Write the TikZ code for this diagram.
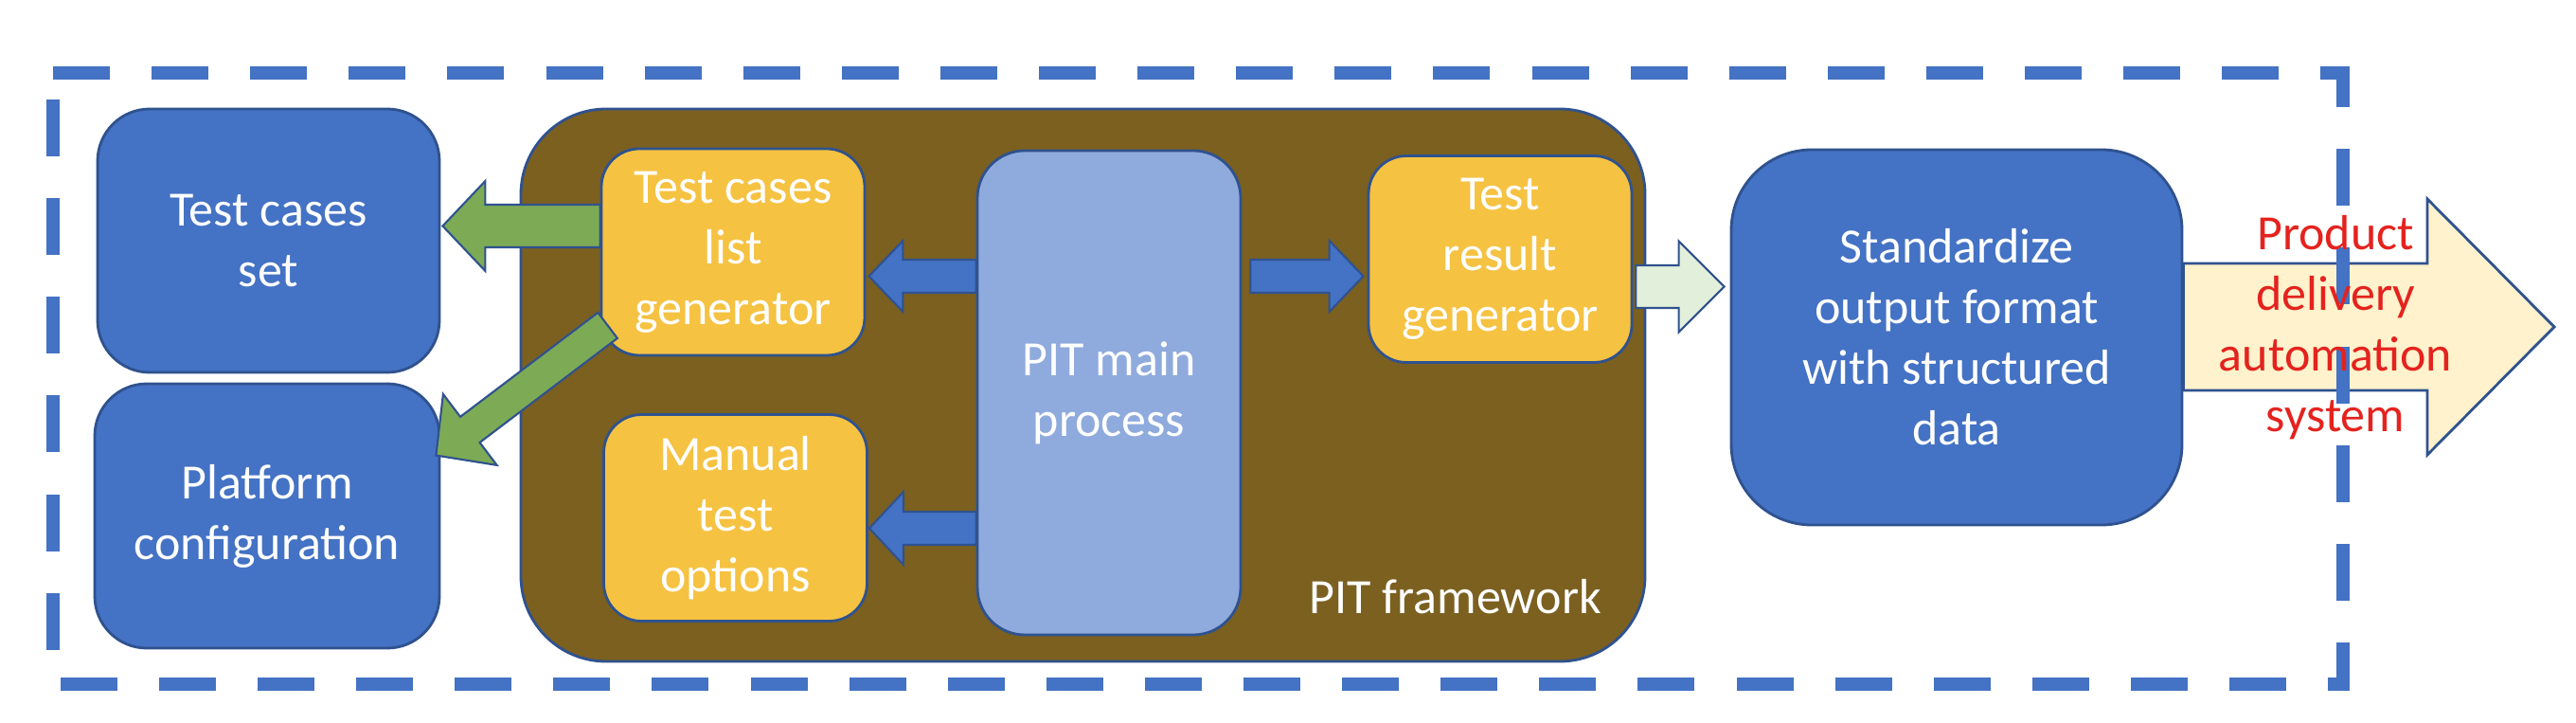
\documentclass[tikz,border=0pt]{standalone}
\usepackage{fontspec}
\setmainfont{Carlito}
\usetikzlibrary{calc}

\definecolor{boxblue}{HTML}{4472C4}
\definecolor{edgeblue}{HTML}{2F528F}
\definecolor{mainblue}{HTML}{8FAADC}
\definecolor{framebrown}{RGB}{123,96,32}
\definecolor{gold}{RGB}{245,194,66}
\definecolor{arrowgreen}{HTML}{7DAA55}
\definecolor{palegreen}{HTML}{E2EFDA}
\definecolor{cream}{HTML}{FFF2CC}
\definecolor{textred}{RGB}{228,35,30}

% block arrow: style, from, to, half shaft, half head, head length
\newcommand{\blockarrow}[6]{%
  \coordinate (ba-h) at ($(#3)!#6!(#2)$);
  \draw[#1] ($(#2)!#4!90:(#3)$) -- ($(ba-h)!#4!90:(#3)$) -- ($(ba-h)!#5!90:(#3)$) -- (#3)
    -- ($(ba-h)!#5!-90:(#3)$) -- ($(ba-h)!#4!-90:(#3)$) -- ($(#2)!#4!-90:(#3)$) -- cycle;
}

\begin{document}
\begin{tikzpicture}[every node/.style={text=white, align=center, inner sep=0pt,
      font=\fontsize{14.8}{18.2}\selectfont},
    bluebox/.style={draw=edgeblue, line width=0.8pt, fill=boxblue, rounded corners=0.55cm},
    goldbox/.style={draw=edgeblue, line width=0.8pt, fill=gold, rounded corners=0.4cm,
      minimum width=2.78cm, minimum height=2.18cm},
    framebox/.style={draw=edgeblue, line width=0.8pt, fill=framebrown, rounded corners=0.9cm},
    mainbox/.style={draw=edgeblue, line width=0.8pt, fill=mainblue, rounded corners=0.5cm},
    greenarrow/.style={draw=edgeblue, line width=0.6pt, fill=arrowgreen},
    bluearrow/.style={draw=edgeblue, line width=0.6pt, fill=boxblue},
    palearrow/.style={draw=edgeblue, line width=0.6pt, fill=palegreen},
    bigarrow/.style={draw=edgeblue, line width=0.8pt, fill=cream},
    border/.style={draw=boxblue, line width=0.14cm, dash pattern=on 0.6cm off 0.441cm}]
  \useasboundingbox (0,0) rectangle (27.2,7.62);

  % PIT framework
  \node[framebox, minimum width=11.87cm, minimum height=5.83cm] (frame) at (11.435,3.555) {};
  \node[anchor=east] (framelabel) at ([shift={(-0.47,0.70)}]frame.south east) {PIT framework};

  \node[goldbox] (listgen) at (7.74,4.96) {Test cases\\list\\generator};
  \node[goldbox] (manual) at (7.765,2.155) {Manual\\test\\options};
  \node[mainbox, minimum width=2.78cm, minimum height=5.11cm] (main) at (11.71,3.475) {PIT main\\process};
  \node[goldbox] (resgen) at (15.84,4.885) {Test\\result\\generator};

  % outside boxes
  \node[bluebox, minimum width=3.61cm, minimum height=2.78cm] (tcset) at (2.835,5.08) {Test cases\\set};
  \node[bluebox, minimum width=3.64cm, minimum height=2.79cm] (platform) at (2.82,2.175) {Platform\\configuration};
  \node[bluebox, rounded corners=0.85cm, minimum width=4.76cm, minimum height=3.96cm] (std) at (20.66,4.06)
    {Standardize\\output format\\with structured\\data};

  % arrows
  \coordinate (g1a) at ([yshift=0.275cm]listgen.west);
  \coordinate (g1b) at ([xshift=0.02cm]tcset.east |- g1a);
  \coordinate (g2a) at ([shift={(0.08,0.33)}]listgen.south west);
  \coordinate (g2b) at ([shift={(-0.05,-0.77)}]platform.north east);
  \coordinate (b1a) at ([yshift=1.23cm]main.west);
  \coordinate (b1b) at ([xshift=0.03cm]listgen.east |- b1a);
  \coordinate (b2a) at ([yshift=-1.43cm]main.west);
  \coordinate (b2b) at ([xshift=0.01cm]manual.east |- b2a);
  \coordinate (b3a) at ([xshift=0.09cm]main.east |- b1a);
  \coordinate (b3b) at ([xshift=-0.04cm]resgen.west |- b3a);
  \coordinate (p1a) at ([shift={(0.03,-0.29)}]resgen.east);
  \coordinate (p1b) at ([xshift=-0.06cm]std.west |- p1a);
  \coordinate (o1a) at ([yshift=0.11cm]std.east);
  \coordinate (out) at (26.97,4.17);

  \blockarrow{greenarrow}{g1a}{g1b}{0.225cm}{0.475cm}{0.45cm}
  \blockarrow{greenarrow}{g2a}{g2b}{0.17cm}{0.47cm}{0.45cm}
  \blockarrow{bluearrow}{b1a}{b1b}{0.175cm}{0.375cm}{0.36cm}
  \blockarrow{bluearrow}{b2a}{b2b}{0.175cm}{0.385cm}{0.36cm}
  \blockarrow{bluearrow}{b3a}{b3b}{0.175cm}{0.375cm}{0.36cm}
  \blockarrow{palearrow}{p1a}{p1b}{0.225cm}{0.48cm}{0.48cm}
  \blockarrow{bigarrow}{o1a}{out}{0.67cm}{1.35cm}{1.34cm}

  % dashed border
  \coordinate (tl) at (0.56,6.85);
  \coordinate (tr) at (24.74,6.85);
  \coordinate (br) at (24.74,0.40);
  \coordinate (bl) at (0.56,0.40);
  \draw[border] (tl) -- (tr) -- (br) -- (bl) -- cycle;

  \node[text=textred] (delivery) at (24.66,4.16) {Product\\delivery\\automation\\system};
\end{tikzpicture}
\end{document}
